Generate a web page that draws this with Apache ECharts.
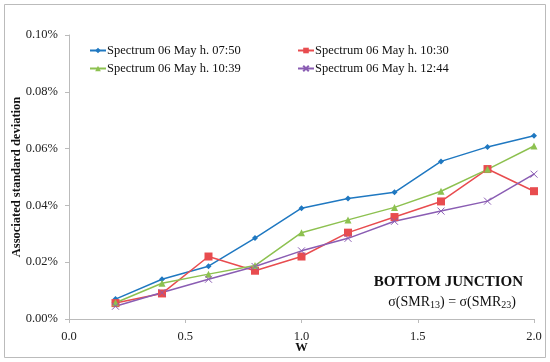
<!DOCTYPE html>
<html>
<head>
<meta charset="utf-8">
<script src="https://cdn.jsdelivr.net/npm/echarts@6/dist/echarts.min.js"></script>
<style>html,body{margin:0;padding:0;background:#fff}#c{width:550px;height:362px}</style>
</head>
<body>
<div id="c"></div>
<script>
var wValues = [0.2, 0.4, 0.6, 0.8, 1.0, 1.2, 1.4, 1.6, 1.8, 2.0];
var seriesNames = ['Spectrum 06 May h. 07:50', 'Spectrum 06 May h. 10:30', 'Spectrum 06 May h. 10:39', 'Spectrum 06 May h. 12:44'];
// values in percent
var s0750 = [0.0070, 0.0140, 0.0186, 0.0285, 0.0390, 0.0424, 0.0446, 0.0555, 0.0606, 0.0645];
var s1030 = [0.0056, 0.0090, 0.0220, 0.0170, 0.0220, 0.0304, 0.0359, 0.0414, 0.0528, 0.0450];
var s1039 = [0.0057, 0.0126, 0.0158, 0.0188, 0.0304, 0.0349, 0.0393, 0.0450, 0.0527, 0.0609];
var s1244 = [0.0045, 0.0093, 0.0140, 0.0185, 0.0240, 0.0284, 0.0344, 0.0380, 0.0415, 0.0510];
var yTicks = [0, 0.02, 0.04, 0.06, 0.08, 0.10];
var xTicks = [0, 0.5, 1.0, 1.5, 2.0];

function pairs(vals){ return wValues.map(function(w,i){ return [w, vals[i]]; }); }
var serif = '"Liberation Serif","DejaVu Serif",serif';
var colors = ['#1f78c1', '#e84c4f', '#8dc150', '#8a5db3'];
var symbols = ['diamond', 'rect', 'triangle', 'path://M0,0L10,10M10,0L0,10'];
var sizes = [6, 8, 7, 7];
var allVals = [s0750, s1030, s1039, s1244];

var legendCommon = {
  orient: 'vertical', top: 39, itemGap: 5,
  itemWidth: 16, itemHeight: 7,
  textStyle: {fontFamily: serif, fontSize: 12.5, color: '#111', padding: [0, 0, 0, -4]}
};

var chart = echarts.init(document.getElementById('c'));
chart.setOption({
  animation: false,
  textStyle: {fontFamily: serif},
  grid: {left: 69, right: 16, top: 35, bottom: 43, containLabel: false, outerBoundsMode: 'none'},
  legend: [
    Object.assign({data: [seriesNames[0], seriesNames[2]], left: 84}, legendCommon),
    Object.assign({data: [seriesNames[1], seriesNames[3]], left: 292}, legendCommon)
  ],
  xAxis: {
    type: 'value', min: 0, max: 2, interval: 0.5,
    name: 'W', nameLocation: 'middle', nameGap: 22, nameMoveOverlap: false,
    nameTextStyle: {fontFamily: serif, fontWeight: 'bold', fontSize: 12.5, color: '#111'},
    axisLine: {lineStyle: {color: '#bbb'}},
    axisTick: {show: true, lineStyle: {color: '#bbb'}, length: 4},
    axisLabel: {formatter: function(v){ return v.toFixed(1); }, fontSize: 12.5, color: '#222', margin: 11, fontFamily: serif},
    splitLine: {show: false}
  },
  yAxis: {
    type: 'value', min: 0, max: 0.10, interval: 0.02,
    name: 'Associated standard deviation', nameLocation: 'middle', nameGap: 46, nameMoveOverlap: false,
    nameTextStyle: {fontFamily: serif, fontWeight: 'bold', fontSize: 12.5, color: '#111'},
    axisLine: {show: true, lineStyle: {color: '#bbb'}},
    axisTick: {show: true, lineStyle: {color: '#bbb'}, length: 4},
    axisLabel: {formatter: function(v){ return v.toFixed(2) + '%'; }, fontSize: 12.5, color: '#222', margin: 11, fontFamily: serif},
    splitLine: {show: false}
  },
  series: allVals.map(function(vals, i){
    return {
      name: seriesNames[i], type: 'line', data: pairs(vals),
      symbol: symbols[i], symbolSize: sizes[i],
      lineStyle: {color: colors[i], width: 1.5},
      itemStyle: i === 3 ? {color: colors[i], borderColor: colors[i], borderWidth: 1} : {color: colors[i]},
      emphasis: {disabled: true}
    };
  }),
  graphic: [{
    type: 'rect', shape: {x: 4.5, y: 4.5, width: 541, height: 353},
    style: {fill: 'none', stroke: '#bbb', lineWidth: 1}, silent: true
  }, {
    type: 'text', right: 27, top: 275,
    style: {text: 'BOTTOM JUNCTION', font: 'bold 15px ' + serif, fill: '#111'}
  }, {
    type: 'text', right: 34, top: 295,
    style: {
      text: '{n|σ(SMR}{s|13}{n|) = σ(SMR}{s|23}{n|)}',
      rich: {
        n: {fontFamily: serif, fontSize: 14, fill: '#111', color: '#111'},
        s: {fontFamily: serif, fontSize: 10, fill: '#111', color: '#111', padding: [6, 0, 0, 0]}
      }
    }
  }]
});
</script>
</body>
</html>
